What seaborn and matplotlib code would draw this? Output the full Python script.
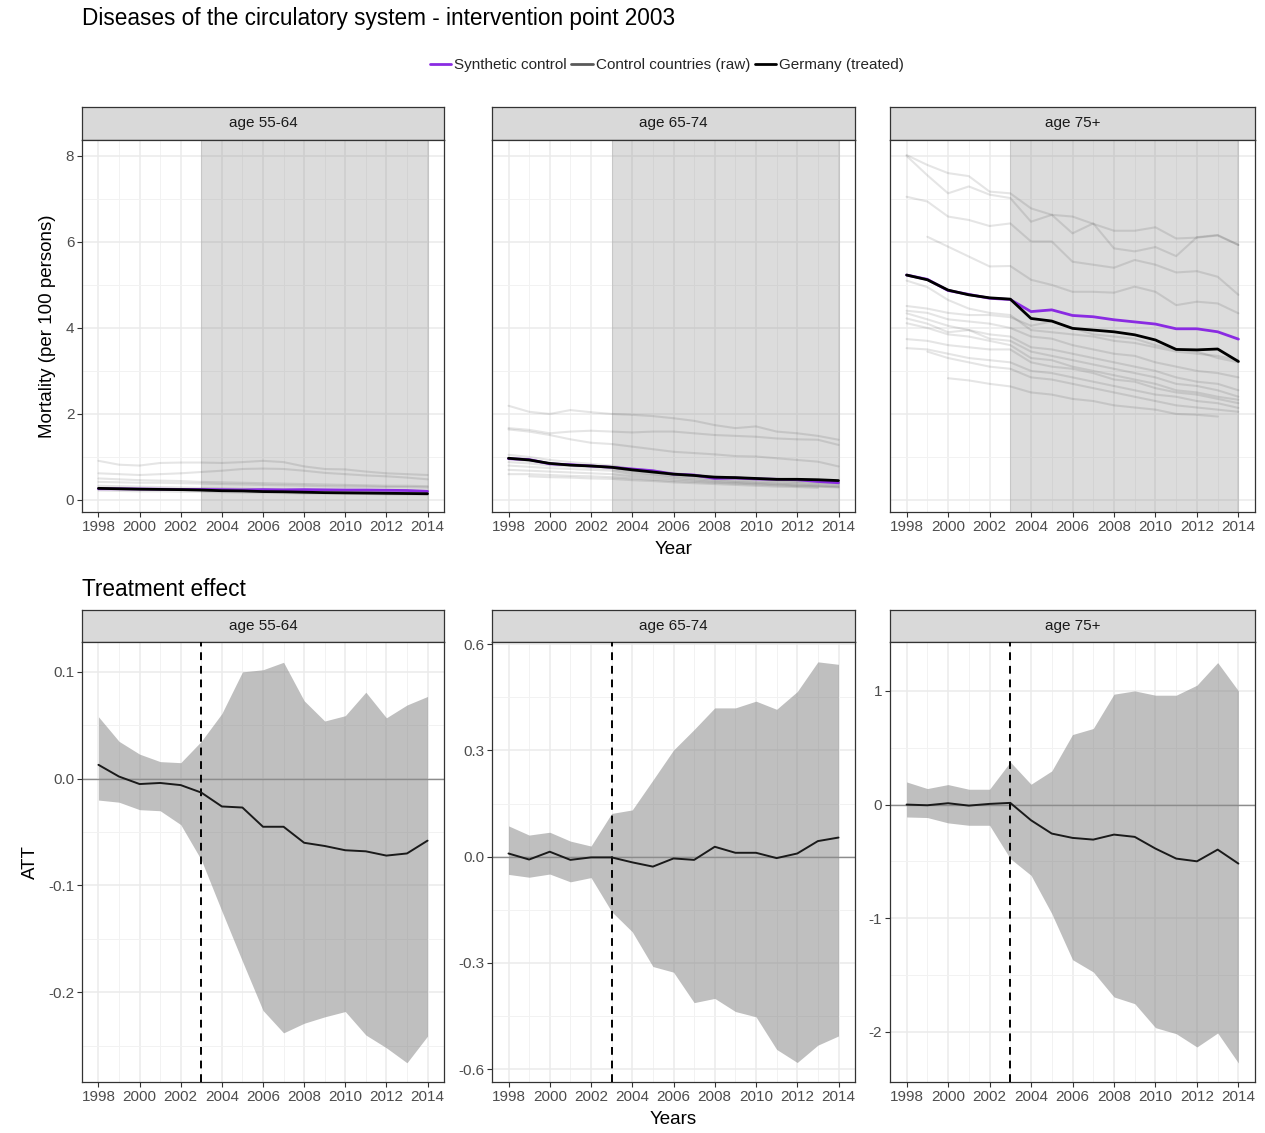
import numpy as np
import pandas as pd
import matplotlib
matplotlib.use("Agg")
import matplotlib.pyplot as plt
from matplotlib.lines import Line2D
from matplotlib.ticker import MultipleLocator, FormatStrFormatter
import seaborn as sns

nan = np.nan

# Daten
years = list(range(1998, 2015))
age_groups = ['age 55-64', 'age 65-74', 'age 75+']

germany_55 = [0.27, 0.26, 0.25, 0.245, 0.24, 0.23, 0.215, 0.21, 0.195, 0.19, 0.18, 0.17, 0.165, 0.16, 0.155, 0.15, 0.145]
synth_55 = [0.26, 0.26, 0.255, 0.25, 0.245, 0.245, 0.24, 0.235, 0.24, 0.235, 0.24, 0.235, 0.23, 0.23, 0.225, 0.22, 0.20]
germany_65 = [0.97, 0.93, 0.85, 0.81, 0.79, 0.76, 0.70, 0.65, 0.60, 0.57, 0.53, 0.52, 0.50, 0.48, 0.48, 0.47, 0.45]
synth_65 = [0.96, 0.94, 0.84, 0.82, 0.79, 0.76, 0.72, 0.68, 0.60, 0.58, 0.50, 0.51, 0.49, 0.48, 0.47, 0.43, 0.40]
germany_75 = [5.23, 5.12, 4.88, 4.77, 4.70, 4.67, 4.22, 4.16, 3.99, 3.95, 3.91, 3.84, 3.72, 3.50, 3.49, 3.51, 3.22]
synth_75 = [5.23, 5.13, 4.87, 4.78, 4.69, 4.66, 4.38, 4.42, 4.29, 4.26, 4.19, 4.14, 4.09, 3.98, 3.98, 3.91, 3.74]

controls_55 = [
    [0.91, 0.82, 0.80, 0.86, 0.87, 0.87, 0.86, 0.88, 0.91, 0.88, 0.78, 0.72, 0.71, 0.66, 0.62, 0.60, 0.58],
    [0.62, 0.60, 0.58, 0.60, 0.62, 0.65, 0.68, 0.72, 0.73, 0.72, 0.68, 0.63, 0.60, 0.57, 0.55, 0.52, 0.48],
    [0.50, 0.48, 0.46, 0.45, 0.44, 0.42, 0.41, 0.40, 0.39, 0.38, 0.37, 0.36, 0.35, 0.34, 0.33, 0.33, 0.32],
    [0.42, 0.41, 0.40, 0.40, 0.39, 0.38, 0.37, 0.36, 0.35, 0.34, 0.33, 0.32, 0.31, 0.31, 0.30, 0.30, 0.29],
    [0.33, 0.32, 0.31, 0.30, 0.29, 0.28, 0.27, 0.26, 0.25, 0.24, 0.23, 0.22, 0.22, 0.21, 0.20, 0.20, 0.19],
    [0.28, 0.27, 0.26, 0.25, 0.24, 0.23, 0.22, 0.21, 0.20, 0.19, 0.18, 0.18, 0.17, 0.17, 0.16, 0.16, 0.15],
    [0.22, 0.21, 0.20, 0.20, 0.19, 0.19, 0.18, 0.17, 0.17, 0.16, 0.15, 0.15, 0.14, 0.14, 0.13, 0.13, 0.12],
]
controls_65 = [
    [2.19, 2.05, 2.00, 2.09, 2.04, 2.00, 1.98, 1.95, 1.90, 1.84, 1.74, 1.67, 1.71, 1.59, 1.55, 1.49, 1.40],
    [1.67, 1.63, 1.55, 1.59, 1.61, 1.59, 1.57, 1.59, 1.59, 1.55, 1.51, 1.49, 1.47, 1.43, 1.41, 1.40, 1.28],
    [1.64, 1.59, 1.51, 1.41, 1.33, 1.30, 1.24, 1.18, 1.12, 1.09, 1.06, 1.02, 1.01, 0.97, 0.93, 0.89, 0.78],
    [1.05, 1.00, 0.93, 0.88, 0.84, 0.80, 0.72, 0.68, 0.62, 0.58, 0.55, 0.52, 0.50, 0.47, 0.45, 0.43, 0.40],
    [0.95, 0.90, 0.85, 0.82, 0.78, 0.75, 0.68, 0.64, 0.58, 0.55, 0.52, 0.49, 0.47, 0.45, 0.42, 0.40, 0.38],
    [0.88, 0.85, 0.80, 0.78, 0.75, 0.72, 0.65, 0.60, 0.55, 0.52, 0.48, 0.45, 0.43, 0.41, 0.39, 0.37, 0.35],
    [0.80, 0.77, 0.74, 0.72, 0.70, 0.68, 0.60, 0.57, 0.52, 0.48, 0.45, 0.42, 0.40, 0.38, 0.36, 0.34, 0.32],
    [0.70, 0.68, 0.66, 0.64, 0.62, 0.60, 0.55, 0.52, 0.48, 0.45, 0.42, 0.40, 0.38, 0.36, 0.34, 0.32, 0.30],
    [0.60, 0.60, 0.58, 0.56, 0.55, 0.53, 0.50, 0.47, 0.44, 0.42, 0.40, 0.38, 0.36, 0.34, 0.32, 0.31, 0.29],
    [nan, 0.55, 0.53, 0.52, 0.50, 0.49, 0.46, 0.44, 0.41, 0.39, 0.37, 0.35, 0.33, 0.31, 0.30, 0.28, nan],
]
controls_75 = [
    [8.02, 7.79, 7.60, 7.53, 7.17, 7.13, 6.78, 6.63, 6.59, 6.42, 6.26, 6.26, 6.34, 6.08, 6.10, 6.15, 5.93],
    [8.00, 7.55, 7.13, 7.29, 7.10, 7.02, 6.47, 6.63, 6.20, 6.43, 5.85, 5.78, 5.88, 5.67, 6.11, 6.16, 5.93],
    [7.05, 6.94, 6.59, 6.51, 6.37, 6.43, 6.01, 6.01, 5.54, 5.47, 5.40, 5.58, 5.47, 5.29, 5.32, 5.19, 4.77],
    [nan, 6.12, 5.89, 5.66, 5.43, 5.44, 5.12, 5.00, 4.84, 4.84, 4.82, 4.96, 4.84, 4.53, 4.61, 4.57, 4.34],
    [5.10, 4.95, 4.65, 4.45, 4.35, 4.30, 3.95, 3.90, 3.85, 3.80, 3.70, 3.65, 3.55, 3.45, 3.40, 3.35, 3.25],
    [4.51, 4.45, 4.35, 4.30, 4.30, 4.25, 4.05, 4.15, 4.00, 3.85, 3.80, 3.75, 3.60, 3.50, 3.45, 3.30, 3.20],
    [4.40, 4.35, 4.20, 4.15, 4.10, 4.00, 3.80, 3.75, 3.60, 3.50, 3.40, 3.35, 3.20, 3.10, 3.00, 2.95, 2.85],
    [4.34, 4.20, 4.05, 3.95, 3.85, 3.80, 3.55, 3.50, 3.40, 3.30, 3.20, 3.10, 3.00, 2.85, 2.75, 2.70, 2.55],
    [4.22, 4.10, 3.90, 3.95, 3.75, 3.70, 3.45, 3.35, 3.25, 3.15, 3.05, 2.95, 2.85, 2.70, 2.65, 2.55, 2.40],
    [4.11, 4.00, 3.85, 3.80, 3.70, 3.60, 3.30, 3.25, 3.10, 3.00, 2.90, 2.80, 2.70, 2.55, 2.50, 2.40, 2.33],
    [3.74, 3.70, 3.60, 3.55, 3.50, 3.50, 3.20, 3.10, 3.05, 2.95, 2.80, 2.75, 2.60, 2.50, 2.45, 2.35, 2.25],
    [3.53, 3.50, 3.40, 3.30, 3.25, 3.20, 3.00, 2.95, 2.85, 2.75, 2.65, 2.55, 2.45, 2.40, 2.30, 2.25, 2.14],
    [nan, 3.45, 3.30, 3.20, 3.10, 3.05, 2.85, 2.80, 2.70, 2.60, 2.50, 2.40, 2.30, 2.20, 2.15, 2.10, 2.05],
    [nan, nan, 2.83, 2.78, 2.70, 2.64, 2.50, 2.45, 2.35, 2.30, 2.20, 2.15, 2.10, 2.00, 1.98, 1.94, nan],
]

att_55 = [0.013, 0.002, -0.005, -0.004, -0.006, -0.013, -0.026, -0.027, -0.045, -0.045, -0.060, -0.063, -0.067, -0.068, -0.072, -0.070, -0.058]
att_55_hi = [0.058, 0.035, 0.023, 0.016, 0.015, 0.035, 0.061, 0.100, 0.102, 0.109, 0.073, 0.054, 0.059, 0.081, 0.057, 0.069, 0.077]
att_55_lo = [-0.020, -0.022, -0.029, -0.030, -0.043, -0.076, -0.124, -0.171, -0.217, -0.238, -0.229, -0.223, -0.218, -0.240, -0.252, -0.266, -0.241]
att_65 = [0.009, -0.008, 0.014, -0.009, -0.002, -0.002, -0.016, -0.028, -0.005, -0.009, 0.028, 0.011, 0.011, -0.004, 0.009, 0.044, 0.054]
att_65_hi = [0.087, 0.061, 0.069, 0.044, 0.030, 0.122, 0.132, 0.216, 0.301, 0.359, 0.420, 0.420, 0.439, 0.416, 0.466, 0.550, 0.543]
att_65_lo = [-0.050, -0.058, -0.049, -0.071, -0.059, -0.155, -0.212, -0.310, -0.326, -0.412, -0.400, -0.437, -0.452, -0.544, -0.581, -0.532, -0.506]
att_75 = [0.000, -0.006, 0.012, -0.009, 0.006, 0.015, -0.138, -0.255, -0.293, -0.308, -0.264, -0.284, -0.387, -0.475, -0.499, -0.396, -0.519]
att_75_hi = [0.199, 0.141, 0.176, 0.135, 0.135, 0.375, 0.179, 0.296, 0.616, 0.669, 0.971, 1.000, 0.962, 0.962, 1.050, 1.249, 1.000]
att_75_lo = [-0.109, -0.114, -0.161, -0.182, -0.182, -0.475, -0.622, -0.959, -1.364, -1.472, -1.692, -1.751, -1.962, -2.015, -2.132, -2.009, -2.273]

intervention = 2003

germany = [germany_55, germany_65, germany_75]
synth = [synth_55, synth_65, synth_75]
controls = [controls_55, controls_65, controls_75]
att = [att_55, att_65, att_75]
att_hi = [att_55_hi, att_65_hi, att_75_hi]
att_lo = [att_55_lo, att_65_lo, att_75_lo]

# Stil
sns.set_theme(style='white')
plt.rcParams['font.family'] = ['Liberation Sans', 'DejaVu Sans']

W, H = 1265, 1133
fig = plt.figure(figsize=(W / 100, H / 100), dpi=100)


def px_axes(x0, y0, x1, y1):
    return fig.add_axes([x0 / W, 1 - y1 / H, (x1 - x0) / W, (y1 - y0) / H])


def add_strip(x0, y0, x1, y1, label):
    s = px_axes(x0, y0, x1, y1)
    s.set_facecolor('#D9D9D9')
    s.set_xticks([])
    s.set_yticks([])
    for sp in s.spines.values():
        sp.set_color('#333333')
        sp.set_linewidth(0.9)
    s.text(0.5, 0.5, label, ha='center', va='center', fontsize=11, color='#1A1A1A', transform=s.transAxes)


def style_panel(ax, ymajor, yminor, show_ylabels=True):
    ax.set_facecolor('white')
    ax.set_xlim(1998 - 0.8, 2014 + 0.8)
    ax.xaxis.set_major_locator(MultipleLocator(2))
    ax.xaxis.set_minor_locator(MultipleLocator(1))
    ax.yaxis.set_major_locator(MultipleLocator(ymajor))
    ax.yaxis.set_minor_locator(MultipleLocator(yminor))
    ax.grid(True, which='major', color='#EBEBEB', lw=1.1, zorder=0)
    ax.grid(True, which='minor', color='#F2F2F2', lw=0.7, zorder=0)
    ax.set_axisbelow(True)
    for sp in ax.spines.values():
        sp.set_color('#333333')
        sp.set_linewidth(0.9)
    ax.tick_params(axis='both', which='major', length=3.5, width=0.8, color='#333333',
                   labelsize=11, labelcolor='#4D4D4D', pad=2, direction='out',
                   bottom=True, left=True)
    ax.tick_params(axis='both', which='minor', length=0)
    if not show_ylabels:
        ax.tick_params(axis='y', which='major', left=False, labelleft=False)
    ax.set_xlabel('')
    ax.set_ylabel('')


panel_x = [(82, 444), (492, 855), (890, 1255)]

# Obere Reihe: Mortalitaet
for i, (x0, x1) in enumerate(panel_x):
    add_strip(x0, 107, x1, 140, age_groups[i])
    ax = px_axes(x0, 140, x1, 512)
    rows = []
    for k, serie in enumerate(controls[i]):
        for yr, v in zip(years, serie):
            if not np.isnan(v):
                rows.append({'year': yr, 'value': v, 'country': k})
    df_ctrl = pd.DataFrame(rows)
    ax.axvspan(intervention, years[-1], color='#808080', alpha=0.27, lw=0.8, zorder=1)
    sns.lineplot(data=df_ctrl, x='year', y='value', units='country', estimator=None,
                 color='black', alpha=0.1, lw=1.5, ax=ax, legend=False, zorder=2)
    sns.lineplot(x=years, y=synth[i], color='#8A2BE2', lw=2.0, ax=ax, zorder=3)
    sns.lineplot(x=years, y=germany[i], color='black', lw=2.0, ax=ax, zorder=4)
    style_panel(ax, 2, 1, show_ylabels=(i == 0))
    ax.set_ylim(-0.28, 8.37)
    if i == 0:
        ax.set_ylabel('Mortality (per 100 persons)', fontsize=13.5, color='black', labelpad=7)
    if i == 1:
        ax.set_xlabel('Year', fontsize=13.5, color='black', labelpad=5)

# Untere Reihe: Behandlungseffekt
bottom_ylims = [(-0.284, 0.128), (-0.636, 0.606), (-2.44, 1.43)]
bottom_ticks = [(0.1, 0.05), (0.3, 0.15), (1, 0.5)]
for i, (x0, x1) in enumerate(panel_x):
    add_strip(x0, 610, x1, 642, age_groups[i])
    ax = px_axes(x0, 642, x1, 1082)
    ax.fill_between(years, att_lo[i], att_hi[i], color='#808080', alpha=0.5, lw=0, zorder=1)
    ax.axhline(0, color='#8C8C8C', lw=1.0, zorder=2)
    ax.axvline(intervention, color='black', lw=1.4, ls=(0, (4, 3)), zorder=3)
    sns.lineplot(x=years, y=att[i], color='#1A1A1A', lw=1.4, ax=ax, zorder=4)
    style_panel(ax, *bottom_ticks[i])
    ax.set_ylim(*bottom_ylims[i])
    if i == 0:
        ax.yaxis.set_major_formatter(FormatStrFormatter('%.1f'))
        ax.set_ylabel('ATT', fontsize=13.5, color='black', labelpad=7)
    elif i == 1:
        ax.yaxis.set_major_formatter(FormatStrFormatter('%.1f'))
        ax.set_xlabel('Years', fontsize=13.5, color='black', labelpad=5)
    else:
        ax.yaxis.set_major_formatter(FormatStrFormatter('%d'))

# Titel und Legende
fig.text(82 / W, 1 - 18 / H, 'Diseases of the circulatory system - intervention point 2003',
         fontsize=16.3, ha='left', va='center', color='black')
fig.text(82 / W, 1 - 589 / H, 'Treatment effect', fontsize=16.3, ha='left', va='center', color='black')

handles = [
    Line2D([], [], color='#8A2BE2', lw=2),
    Line2D([], [], color='#595959', lw=2),
    Line2D([], [], color='black', lw=2),
]
labels = ['Synthetic control', 'Control countries (raw)', 'Germany (treated)']
fig.legend(handles, labels, loc='center', bbox_to_anchor=(667 / W, 1 - 65 / H), ncol=3,
           frameon=False, fontsize=11, handlelength=1.4, handletextpad=0.2, columnspacing=0.3)

fig.savefig('out.png', dpi=100)
